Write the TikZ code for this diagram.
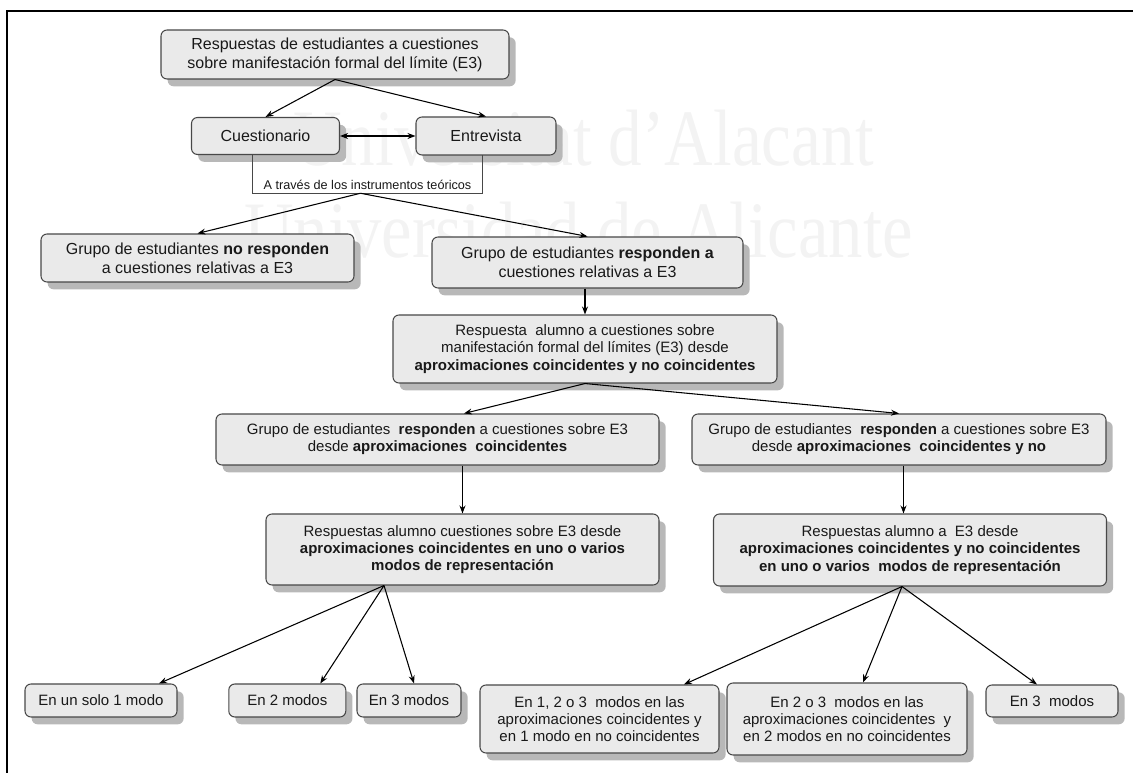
\documentclass[tikz,border=0pt]{standalone}
\usepackage{fontspec}
\usepackage{graphicx}
\setmainfont{Liberation Sans}
\newfontfamily\wmfont{Liberation Serif}
\usetikzlibrary{arrows.meta,shadows,calc}

\definecolor{boxfill}{RGB}{234,234,234}
\definecolor{boxline}{RGB}{72,72,72}
\definecolor{shadowc}{RGB}{184,184,184}
\definecolor{inktext}{RGB}{25,25,25}
\definecolor{wmark}{RGB}{243,243,243}

\newcommand\txtL{\fontsize{12pt}{14.25pt}\selectfont}
\newcommand\txtM{\fontsize{11.25pt}{12.9pt}\selectfont}
\newcommand\txtS{\fontsize{9.5pt}{11pt}\selectfont}

\tikzset{
  box/.style={draw=boxline, fill=boxfill, line width=0.8pt, rounded corners=4.5pt,
    align=center, inner sep=0pt, text=inktext,
    drop shadow={shadow xshift=5pt, shadow yshift=-5.5pt, fill=shadowc, opacity=1}},
  boxL/.style={box, font=\txtL},
  boxM/.style={box, font=\txtM},
  link/.style={draw=black, line width=0.8pt, -{Stealth[length=6pt,width=4.5pt]}},
  twoway/.style={draw=black, line width=0.8pt,
    {Stealth[length=6pt,width=4.5pt]}-{Stealth[length=6pt,width=4.5pt]}},
  wmtext/.style={anchor=base east, text=wmark, inner sep=0pt,
    font=\wmfont\fontsize{60pt}{60pt}\selectfont},
}

\begin{document}
\begin{tikzpicture}[x=0.75pt,y=-0.75pt]
\useasboundingbox (0,0) rectangle (1133,773);

% watermark lettering behind the chart
\node[wmtext] (wm1) at (874,166) {\scalebox{0.84}[1]{Universitat d’Alacant}};
\node[wmtext] (wm2) at (913,258) {\scalebox{0.86}[1]{Universidad de Alicante}};

% frame on the left and top
\draw[line width=1.7pt] (7,773) -- (7,11) -- (1133,11);

% first level
\node[boxL, minimum width=261pt, minimum height=36.75pt] (top) at (335,54.5)
  {Respuestas de estudiantes a cuestiones\\sobre manifestación formal del límite (E3)};
\node[boxL, minimum width=111pt, minimum height=27.75pt] (cuest) at (265.5,136) {Cuestionario};
\node[boxL, minimum width=105pt, minimum height=28.5pt] (entr) at (486,136) {Entrevista};

% open label box hanging below the two instruments
\node[minimum width=171.75pt, minimum height=28.5pt, inner sep=0pt] (via) at (367.5,174) {};
\draw[draw=boxline, line width=0.7pt] (via.north west) -- (via.south west) -- (via.south east) -- (via.north east);
\node[anchor=south, inner sep=2.5pt, font=\txtS, text=inktext] (vialbl) at (via.south)
  {A través de los instrumentos teóricos};

% second level
\node[boxL, minimum width=234.75pt, minimum height=36pt] (nores) at (197.5,258)
  {Grupo de estudiantes \textbf{no responden}\\a cuestiones relativas a E3};
\node[boxL, minimum width=233.25pt, minimum height=38.25pt] (res) at (587.5,262.5)
  {Grupo de estudiantes \textbf{responden a}\\cuestiones relativas a E3};
\node[boxM, minimum width=288pt, minimum height=51pt] (resp) at (585,349)
  {Respuesta\ \ alumno a cuestiones sobre\\manifestación formal del límites (E3) desde\\
   \textbf{aproximaciones coincidentes y no coincidentes}};

% third level
\node[boxM, minimum width=332.25pt, minimum height=38.25pt] (gcoin) at (437.5,439.5)
  {Grupo de estudiantes\ \ \textbf{responden} a cuestiones sobre E3\\desde \textbf{aproximaciones\ \ coincidentes}};
\node[boxM, minimum width=310.5pt, minimum height=38.25pt] (gno) at (899,439.5)
  {Grupo de estudiantes\ \ \textbf{responden} a cuestiones sobre E3\\desde \textbf{aproximaciones\ \ coincidentes y no}};
\node[boxM, minimum width=294.75pt, minimum height=53.25pt] (rcoin) at (462.5,549.5)
  {Respuestas alumno cuestiones sobre E3 desde\\\textbf{aproximaciones coincidentes en uno o varios}\\
   \textbf{modos de representación}};
\node[boxM, minimum width=294.75pt, minimum height=54pt] (rno) at (910,550)
  {Respuestas alumno a\ \ E3 desde\\\textbf{aproximaciones coincidentes y no coincidentes}\\
   \textbf{en uno o varios\ \ modos de representación}};

% bottom row
\node[boxM, minimum width=114pt, minimum height=24.75pt] (m1) at (101,700.5) {En un solo 1 modo};
\node[boxM, minimum width=87.75pt, minimum height=24.75pt] (m2) at (287.3,700.5) {En 2 modos};
\node[boxM, minimum width=78pt, minimum height=24.75pt] (m3) at (409,700.5) {En 3 modos};
\node[boxM, minimum width=179.25pt, minimum height=51pt] (b1) at (599.5,719)
  {En 1, 2 o 3\ \ modos en las\\aproximaciones coincidentes y\\en 1 modo en no coincidentes};
\node[boxM, minimum width=180pt, minimum height=54pt] (b2) at (847,719)
  {En 2 o 3\ \ modos en las\\aproximaciones coincidentes\ \ y\\en 2 modos en no coincidentes};
\node[boxM, minimum width=99pt, minimum height=24pt] (b3) at (1052,701) {En 3\ \ modos};

% connectors
\draw[link] (top.south) -- (cuest.north);
\draw[link] (top.south) -- (entr.north);
\draw[twoway] (cuest.east) -- (entr.west);
\draw[link] ($(via.south)+(-7,0)$) -- (nores.north);
\draw[link] ($(via.south)+(-7,0)$) -- (res.north);
\draw[link] (res.south -| resp.north) -- (resp.north);
\draw[link] (resp.south) -- ($(gcoin.north)+(26.5,0)$);
\draw[link] (resp.south) -- (gno.north);
\draw[link] (gcoin.south -| rcoin.north) -- (rcoin.north);
\draw[link] ($(gno.south)+(4.5,0)$) -- ($(rno.north)+(-6.5,0)$);
\draw[link] ($(rcoin.south)+(-78.5,0)$) -- ($(m1.north)+(58,0)$);
\draw[link] ($(rcoin.south)+(-78.5,0)$) -- ($(m2.north)+(33,0)$);
\draw[link] ($(rcoin.south)+(-78.5,0)$) -- ($(m3.north)+(5,0)$);
\draw[link] ($(rno.south)+(-8,0)$) -- ($(b1.north)+(84.5,0)$);
\draw[link] ($(rno.south)+(-8,0)$) -- ($(b2.north)+(16,0)$);
\draw[link] ($(rno.south)+(-8,0)$) -- ($(b3.north)+(-15,0)$);
\end{tikzpicture}
\end{document}
